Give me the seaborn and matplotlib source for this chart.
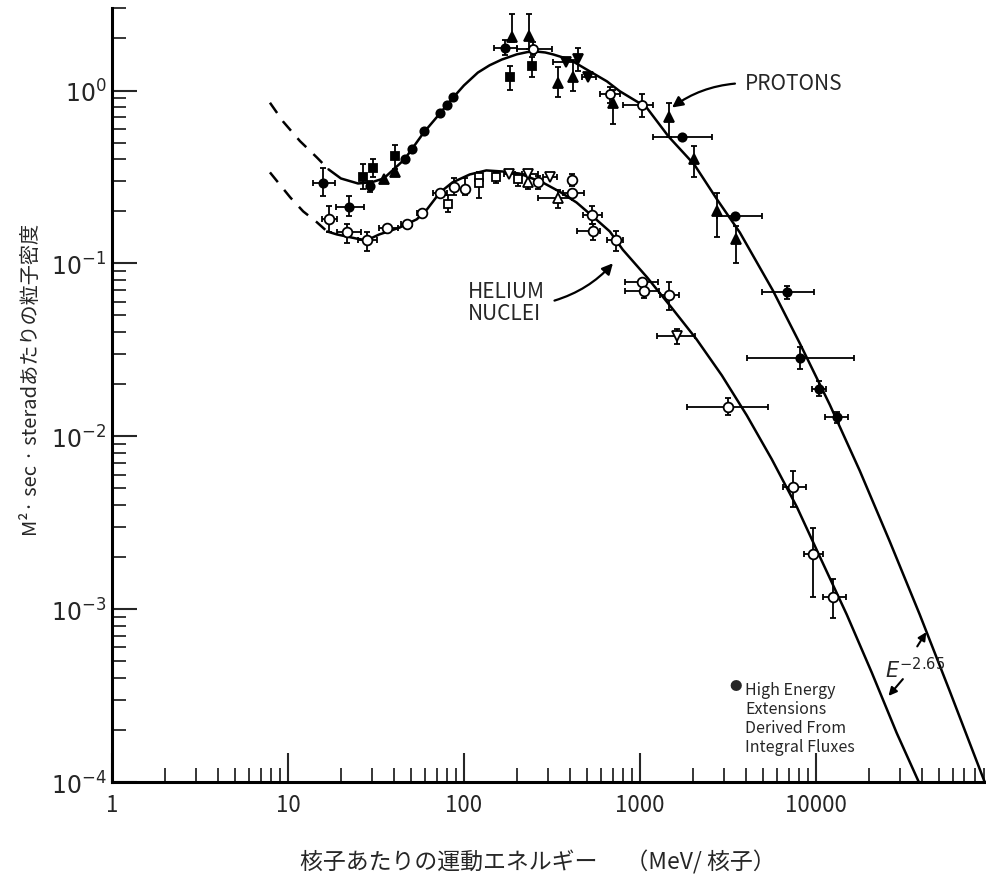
import numpy as np
import matplotlib
matplotlib.use("Agg")
import matplotlib.pyplot as plt
import seaborn as sns

# ---- fitted curves (kinetic energy MeV/nucleon, flux) ----
proton_dash_e = [7.9, 9.4, 11.7, 14.6, 17]
proton_dash_f = [0.85, 0.66, 0.51, 0.41, 0.35]
proton_line_e = [17, 20, 25, 30, 35, 46, 59, 70, 86, 100, 120, 140, 164, 200, 230, 260, 290,
                 320, 400, 520, 650, 770, 1090, 1460, 2040, 2750, 3700, 5700, 8110, 12020,
                 17780, 26300, 39000, 57700, 91200]
proton_line_f = [0.35, 0.31, 0.29, 0.295, 0.31, 0.40, 0.57, 0.70, 0.90, 1.07, 1.27, 1.40, 1.51,
                 1.62, 1.67, 1.68, 1.66, 1.62, 1.51, 1.29, 1.13, 0.99, 0.80, 0.54, 0.373, 0.234,
                 0.151, 0.0698, 0.0345, 0.0152, 6.32e-3, 2.47e-3, 9.29e-4, 3.36e-4, 1e-4]

helium_dash_e = [7.9, 10.3, 12.2, 14.6, 16.7]
helium_dash_f = [0.336, 0.241, 0.20, 0.173, 0.153]
helium_line_e = [16.7, 19, 24.7, 28, 33, 43, 54, 61.6, 73, 86, 108, 134, 167, 207, 280, 350,
                 437, 540, 675, 800, 1100, 1510, 2100, 2924, 4055, 5623, 7798, 10820, 15000,
                 20800, 28840, 38500]
helium_line_f = [0.153, 0.147, 0.139, 0.136, 0.147, 0.161, 0.18, 0.205, 0.257, 0.294, 0.327,
                 0.345, 0.34, 0.331, 0.294, 0.26, 0.225, 0.187, 0.153, 0.12, 0.083, 0.0557,
                 0.0364, 0.0225, 0.0132, 7.36e-3, 3.91e-3, 1.9e-3, 9.3e-4, 4.3e-4, 1.92e-4, 1e-4]

# ---- measurements: value, energy range, flux range ----
# protons, filled circles (incl. high energy extensions)
pc_e = [15.8, 22.2, 29.2, 46, 51, 59, 73, 80, 86.5, 171, 1730, 3470, 6840, 8100, 10400, 13200]
pc_f = [0.29, 0.213, 0.282, 0.40, 0.456, 0.58, 0.746, 0.82, 0.92, 1.77, 0.54, 0.187, 0.068,
        0.0282, 0.0187, 0.0129]
pc_elo = [13.9, 18.7, 29.2, 46, 51, 59, 73, 80, 86.5, 148, 1190, 2750, 4950, 4060, 9500, 11300]
pc_ehi = [18.5, 27, 29.2, 46, 51, 59, 73, 80, 86.5, 200, 2570, 4950, 9800, 16400, 11500, 15200]
pc_flo = [0.247, 0.187, 0.26, 0.40, 0.456, 0.58, 0.746, 0.82, 0.92, 1.61, 0.54, 0.187, 0.062,
          0.0244, 0.017, 0.0119]
pc_fhi = [0.354, 0.244, 0.30, 0.40, 0.456, 0.58, 0.746, 0.82, 0.92, 1.97, 0.54, 0.187, 0.074,
          0.0327, 0.021, 0.0139]

# protons, filled squares
ps_e = [26.7, 30.4, 40.5, 183, 243]
ps_f = [0.318, 0.354, 0.416, 1.19, 1.38]
ps_flo = [0.268, 0.318, 0.35, 1.01, 1.19]
ps_fhi = [0.374, 0.40, 0.487, 1.38, 1.57]

# protons, filled triangles
pt_e = [35, 40.5, 187, 234, 342, 415, 700, 1460, 2030, 2750, 3500]
pt_f = [0.306, 0.336, 2.03, 2.08, 1.11, 1.2, 0.85, 0.70, 0.40, 0.20, 0.138]
pt_flo = [0.306, 0.336, 1.9, 1.75, 0.92, 0.99, 0.64, 0.535, 0.318, 0.143, 0.10]
pt_fhi = [0.306, 0.336, 2.79, 2.79, 1.36, 1.51, 1.01, 0.85, 0.475, 0.257, 0.164]

# protons, filled inverted triangles
pv_e = [380, 445, 505]
pv_f = [1.47, 1.53, 1.2]
pv_elo = [320, 445, 470]
pv_ehi = [445, 445, 560]
pv_flo = [1.47, 1.29, 1.2]
pv_fhi = [1.47, 1.77, 1.2]

# protons, open circles
po_e = [246, 680, 1030]
po_f = [1.73, 0.95, 0.82]
po_elo = [200, 590, 800]
po_ehi = [316, 770, 1190]
po_flo = [1.60, 0.85, 0.70]
po_fhi = [1.90, 1.05, 0.96]

# helium, open circles
hc_e = [17.1, 21.6, 28.1, 36.5, 47.5, 57.7, 73, 87.5, 101, 265, 411, 411, 534, 540, 731,
        1025, 1050, 1460, 3160, 7400, 9600, 12500]
hc_f = [0.18, 0.151, 0.136, 0.161, 0.17, 0.195, 0.257, 0.275, 0.271, 0.294, 0.302, 0.257,
        0.19, 0.153, 0.136, 0.078, 0.069, 0.0653, 0.0147, 5.1e-3, 2.08e-3, 1.17e-3]
hc_elo = [15.6, 19, 25, 33, 44, 54, 67, 87.5, 101, 265, 411, 365, 475, 440, 650, 820, 820,
          1300, 1850, 6500, 8600, 11000]
hc_ehi = [19, 26, 32, 42, 51, 61, 80, 87.5, 101, 265, 411, 480, 610, 590, 800, 1270, 1290,
          1680, 5360, 8800, 11000, 14800]
hc_flo = [0.151, 0.132, 0.118, 0.161, 0.17, 0.195, 0.257, 0.25, 0.25, 0.27, 0.28, 0.257,
          0.168, 0.136, 0.118, 0.078, 0.063, 0.0535, 0.0133, 3.9e-3, 1.18e-3, 8.9e-4]
hc_fhi = [0.214, 0.168, 0.151, 0.161, 0.17, 0.195, 0.257, 0.31, 0.31, 0.32, 0.33, 0.257,
          0.214, 0.168, 0.155, 0.078, 0.078, 0.078, 0.0166, 6.3e-3, 2.95e-3, 1.5e-3]

# helium, open squares
hs_e = [81, 122, 122, 152, 203]
hs_f = [0.222, 0.318, 0.29, 0.314, 0.306]
hs_flo = [0.198, 0.318, 0.24, 0.29, 0.28]
hs_fhi = [0.25, 0.34, 0.29, 0.34, 0.33]

# helium, open triangles
ht_e = [230, 342]
ht_f = [0.294, 0.238]
ht_elo = [230, 265]
ht_ehi = [230, 411]
ht_flo = [0.27, 0.21]
ht_fhi = [0.32, 0.265]

# helium, open inverted triangles
hv_e = [180, 230, 308, 1620]
hv_f = [0.327, 0.331, 0.318, 0.038]
hv_elo = [170, 215, 280, 1250]
hv_ehi = [195, 265, 340, 2070]
hv_flo = [0.327, 0.331, 0.318, 0.034]
hv_fhi = [0.327, 0.331, 0.318, 0.042]

x_ticks = [1, 10, 100, 1000, 10000]
x_labels = ["1", "10", "100", "1000", "10000"]
y_ticks = [1e-4, 1e-3, 1e-2, 1e-1, 1]
y_labels = ["$10^{-4}$", "$10^{-3}$", "$10^{-2}$", "$10^{-1}$", "$10^{0}$"]

sns.set_theme(style="ticks")
plt.rcParams["font.family"] = ["Noto Sans CJK JP", "DejaVu Sans"]

fig = plt.figure(figsize=(9.87, 8.79), dpi=100)
ax = fig.add_axes([0.1135, 0.1092, 0.8865, 0.8805])
ax.set_xscale("log")
ax.set_yscale("log")

sns.lineplot(x=proton_dash_e, y=proton_dash_f, ax=ax, color="black", linewidth=1.8)
ax.lines[-1].set_dashes([5, 4])
sns.lineplot(x=proton_line_e, y=proton_line_f, ax=ax, color="black", linewidth=1.8)
sns.lineplot(x=helium_dash_e, y=helium_dash_f, ax=ax, color="black", linewidth=1.8)
ax.lines[-1].set_dashes([5, 4])
sns.lineplot(x=helium_line_e, y=helium_line_f, ax=ax, color="black", linewidth=1.8)


def draw_points(e, f, elo, ehi, flo, fhi, marker, filled, ms):
    e, f = np.array(e), np.array(f)
    xerr = [e - np.array(elo), np.array(ehi) - e]
    yerr = [f - np.array(flo), np.array(fhi) - f]
    ax.errorbar(e, f, xerr=xerr, yerr=yerr, fmt=marker, ms=ms, mew=1.3,
                mfc="black" if filled else "white", mec="black", ecolor="black",
                elinewidth=1.3, capsize=2.5, capthick=1.3, zorder=3)


draw_points(pc_e, pc_f, pc_elo, pc_ehi, pc_flo, pc_fhi, "o", True, 6)
draw_points(ps_e, ps_f, ps_e, ps_e, ps_flo, ps_fhi, "s", True, 5.5)
draw_points(pt_e, pt_f, pt_e, pt_e, pt_flo, pt_fhi, "^", True, 7.5)
draw_points(pv_e, pv_f, pv_elo, pv_ehi, pv_flo, pv_fhi, "v", True, 7)
draw_points(po_e, po_f, po_elo, po_ehi, po_flo, po_fhi, "o", False, 6.5)
draw_points(hc_e, hc_f, hc_elo, hc_ehi, hc_flo, hc_fhi, "o", False, 7)
draw_points(hs_e, hs_f, hs_e, hs_e, hs_flo, hs_fhi, "s", False, 6)
draw_points(ht_e, ht_f, ht_elo, ht_ehi, ht_flo, ht_fhi, "^", False, 7.5)
draw_points(hv_e, hv_f, hv_elo, hv_ehi, hv_flo, hv_fhi, "v", False, 7.5)

# labels and arrows
ax.text(3950, 1.10, "PROTONS", fontsize=15, ha="left", va="center")
ax.annotate("", xy=(1480, 0.78), xytext=(3600, 1.10),
            arrowprops=dict(arrowstyle="-|>", color="black", lw=1.6,
                            mutation_scale=16, connectionstyle="arc3,rad=0.15"))
ax.text(105, 0.0595, "HELIUM\nNUCLEI", fontsize=15, ha="left", va="center",
        linespacing=1.0)
ax.annotate("", xy=(720, 0.103), xytext=(316, 0.0603),
            arrowprops=dict(arrowstyle="-|>", color="black", lw=1.6,
                            mutation_scale=16, connectionstyle="arc3,rad=0.15"))
ax.text(24700, 4.05e-4, "$E^{-2.65}$", fontsize=15, ha="left", va="baseline")
ax.annotate("", xy=(43300, 7.6e-4), xytext=(37000, 5.9e-4),
            arrowprops=dict(arrowstyle="-|>", color="black", lw=1.5, mutation_scale=12))
ax.annotate("", xy=(25300, 3.06e-4), xytext=(32000, 4.05e-4),
            arrowprops=dict(arrowstyle="-|>", color="black", lw=1.5, mutation_scale=12))

ax.text(0.713, 0.125, "●", transform=ax.transAxes, fontsize=9, ha="center", va="center")
ax.text(0.7234, 0.1300, "High Energy\nExtensions\nDerived From\nIntegral Fluxes",
        transform=ax.transAxes, fontsize=11.5, ha="left", va="top", linespacing=1.15)

# axes
ax.set_xlim(1, 9.4e4)
ax.set_ylim(1e-4, 3.0)
ax.set_xticks(x_ticks)
ax.set_xticklabels(x_labels)
ax.set_yticks(y_ticks)
ax.set_yticklabels(y_labels)
ax.tick_params(axis="x", which="major", direction="in", length=21, width=1.5,
               labelsize=16, pad=8)
ax.tick_params(axis="y", which="major", direction="in", length=18, width=1.5,
               labelsize=17, pad=4)
ax.tick_params(axis="both", which="minor", direction="in", length=10, width=1.3)
for side in ["top", "right"]:
    ax.spines[side].set_visible(False)
for side in ["left", "bottom"]:
    ax.spines[side].set_linewidth(2.2)
    ax.spines[side].set_color("black")
ax.set_xlabel("")
ax.set_ylabel("")

fig.text(0.032, 1 - 380 / 879, "M²· sec · steradあたりの粒子密度", rotation=90,
         fontsize=14.5, ha="center", va="center")
fig.text(0.545, 1 - 862 / 879, "核子あたりの運動エネルギー　 （MeV/ 核子）",
         fontsize=16.5, ha="center", va="center")

fig.savefig("out.png", dpi=100)
